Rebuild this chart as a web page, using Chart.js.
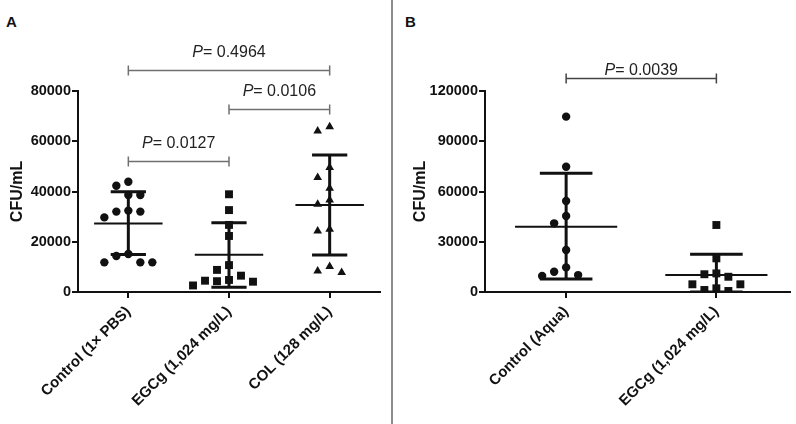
<!DOCTYPE html>
<html><head><meta charset="utf-8">
<script src="https://cdn.jsdelivr.net/npm/chart.js@4.4.1/dist/chart.umd.min.js"></script>
<style>
html,body{margin:0;padding:0;background:#fff;width:796px;height:424px;overflow:hidden;font-family:"Liberation Sans",Arial,sans-serif}
#wa{position:absolute;left:0;top:0;width:391px;height:424px}
#wb{position:absolute;left:392px;top:0;width:404px;height:424px}
#sep{position:absolute;left:391px;top:0;width:2px;height:424px;background:#8c8c8c}
.pl{position:absolute;top:13px;font:bold 15px "Liberation Sans",Arial,sans-serif;color:#111}
</style></head><body>
<div class="pl" style="left:6px">A</div>
<div class="pl" style="left:405px">B</div>
<div id="wa"><canvas id="ca" width="391" height="424"></canvas></div>
<div id="wb"><canvas id="cb" width="404" height="424"></canvas></div>
<div id="sep"></div>
<script>
// ---------- Panel A data ----------
const catsA = ['Control (1\u00d7 PBS)', 'EGCg (1,024 mg/L)', 'COL (128 mg/L)'];
const ctrlA = [43900, 42300, 38600, 38600, 32400, 32000, 32000, 29700, 15100, 14300, 11800, 11800, 11800];
const egcgA = [38900, 32600, 26700, 22300, 10700, 8800, 6500, 4800, 4500, 4300, 4100, 2600];
const colA  = [65800, 64100, 49600, 45600, 41300, 36600, 34900, 25000, 24300, 10100, 8400, 7800];
const meanA = [27300, 14800, 34600];
const sdHiA = [39900, 27600, 54500];
const sdLoA = [14900, 1900, 14700];
const yTicksA = [0, 20000, 40000, 60000, 80000];
const pTextA  = ['0.4964', '0.0106', '0.0127'];
const pFromA  = [0, 1, 0];
const pToA    = [2, 2, 1];
const pLevelA = [88400, 72800, 52100];

// ---------- Panel B data ----------
const catsB = ['Control (Aqua)', 'EGCg (1,024 mg/L)'];
const ctrlB = [104700, 74800, 54300, 45400, 41000, 25100, 14700, 12100, 10100, 9600];
const egcgB = [40000, 20100, 11100, 10600, 9100, 4600, 4600, 2200, 1200, 600];
const meanB = [39000, 10100];
const sdHiB = [70900, 22500];
const sdLoB = [7800, 0];
const yTicksB = [0, 30000, 60000, 90000, 120000];
const pTextB  = ['0.0039'];
const pFromB  = [0];
const pToB    = [1];
const pLevelB = [127600];

// ---------- helpers ----------
const INK = '#111';
const PLOT_H = 201;           // plot height in px (layout constant)
const MARK_D = 11;            // collision distance in px
const STEP_PX = 12;           // horizontal step between neighbouring marks

// deterministic beeswarm: spreads marks that would overlap
function swarm(vals, center, catPx, yMax) {
  const pxPerVal = PLOT_H / yMax;
  const order = vals.map((v, i) => i).sort((a, b) => vals[b] - vals[a]);
  const placed = [];
  const out = new Array(vals.length);
  for (const i of order) {
    const v = vals[i];
    for (let k = 0; k < 40; k++) {
      const off = k === 0 ? 0 : (k % 2 ? -Math.ceil(k / 2) : Math.ceil(k / 2));
      const ok = placed.every(p => Math.abs(p.v - v) * pxPerVal >= MARK_D || Math.abs(p.off - off) * STEP_PX >= MARK_D);
      if (ok) { placed.push({ v, off }); out[i] = { x: center + off * STEP_PX / catPx, y: v }; break; }
    }
  }
  return out;
}
function meanSegs(means, hw) {
  const d = [];
  means.forEach((m, i) => { d.push({ x: i - hw, y: m }, { x: i + hw, y: m }, { x: i, y: null }); });
  return d;
}
function sdSegs(hi, lo, hw) {
  const d = [];
  hi.forEach((h, i) => {
    d.push({ x: i - hw, y: h }, { x: i + hw, y: h }, { x: i, y: null });
    d.push({ x: i, y: h }, { x: i, y: lo[i] }, { x: i + 0.001, y: null });
    d.push({ x: i - hw, y: lo[i] }, { x: i + hw, y: lo[i] }, { x: i + 0.002, y: null });
  });
  return d;
}
const bracketPlugin = {
  id: 'brackets',
  afterDatasetsDraw(chart, args, o) {
    const { ctx } = chart;
    const xs = chart.scales.x, ys = chart.scales.y;
    ctx.save();
    o.text.forEach((t, i) => {
      const x1 = xs.getPixelForValue(o.from[i]), x2 = xs.getPixelForValue(o.to[i]);
      const y = Math.round(ys.getPixelForValue(o.level[i])) + 0.5;
      ctx.strokeStyle = o.color; ctx.lineWidth = 1.5;
      ctx.beginPath();
      ctx.moveTo(x1, y); ctx.lineTo(x2, y);
      ctx.moveTo(x1, y - 5); ctx.lineTo(x1, y + 5);
      ctx.moveTo(x2, y - 5); ctx.lineTo(x2, y + 5);
      ctx.stroke();
      const fi = 'italic 16px "Liberation Sans", Arial, sans-serif';
      const fn = '16px "Liberation Sans", Arial, sans-serif';
      ctx.font = fi; const w1 = ctx.measureText('P').width;
      ctx.font = fn; const rest = '= ' + t; const w2 = ctx.measureText(rest).width;
      const xs0 = (x1 + x2) / 2 - (w1 + w2) / 2;
      const ty = y - o.gap;
      ctx.fillStyle = '#222'; ctx.textBaseline = 'middle'; ctx.textAlign = 'left';
      ctx.font = fi; ctx.fillText('P', xs0, ty);
      ctx.font = fn; ctx.fillText(rest, xs0 + w1, ty);
    });
    ctx.restore();
  }
};

function makeChart(id, cfg) {
  const markerSets = cfg.groups.map((g, i) => ({
    type: 'scatter',
    data: swarm(g, i, cfg.catPx, cfg.yMax),
    pointStyle: cfg.styles[i], pointRadius: cfg.radii[i],
    backgroundColor: INK, borderColor: INK, borderWidth: 0
  }));
  return new Chart(document.getElementById(id), {
    type: 'scatter',
    data: {
      datasets: [
        ...markerSets,
        { type: 'line', data: meanSegs(cfg.mean, 0.34), borderColor: INK, borderWidth: 2, pointRadius: 0, spanGaps: false, fill: false },
        { type: 'line', data: sdSegs(cfg.hi, cfg.lo, 0.175), borderColor: INK, borderWidth: 3, pointRadius: 0, spanGaps: false, fill: false }
      ]
    },
    options: {
      responsive: false, animation: false,
      layout: { padding: { left: cfg.padL, right: cfg.padR, top: 91, bottom: 0 } },
      plugins: {
        legend: { display: false }, tooltip: { enabled: false },
        brackets: { text: cfg.pText, from: cfg.pFrom, to: cfg.pTo, level: cfg.pLevel, gap: cfg.gap, color: cfg.bColor }
      },
      scales: {
        x: {
          type: 'linear', min: cfg.xMin, max: cfg.xMax,
          afterBuildTicks: s => { s.ticks = cfg.cats.map((c, i) => ({ value: i })); },
          afterFit: s => { s.height = 132; },
          ticks: { callback: v => cfg.cats[v], autoSkip: false, minRotation: 45, maxRotation: 45, padding: 5,
                   color: INK, font: { family: '"Liberation Sans", Arial, sans-serif', size: 15, weight: 'bold' } },
          grid: { drawOnChartArea: false, drawTicks: true, tickLength: 6, color: INK, lineWidth: 2 },
          border: { color: INK, width: 2 }
        },
        y: {
          min: 0, max: cfg.yMax,
          afterBuildTicks: s => { s.ticks = cfg.yTicks.map(v => ({ value: v })); },
          afterFit: s => { s.width = cfg.yW; },
          ticks: { callback: v => String(v), padding: 1, color: INK,
                   font: { family: '"Liberation Sans", Arial, sans-serif', size: 14.5, weight: 'bold' } },
          grid: { drawOnChartArea: false, drawTicks: true, tickLength: 6, color: INK, lineWidth: 2 },
          border: { color: INK, width: 2 },
          title: { display: true, text: 'CFU/mL', color: INK, padding: { top: cfg.titlePad, bottom: 0 },
                   font: { family: '"Liberation Sans", Arial, sans-serif', size: 16, weight: 'bold' } }
        }
      }
    },
    plugins: [bracketPlugin]
  });
}

makeChart('ca', {
  cats: catsA, groups: [ctrlA, egcgA, colA], styles: ['circle', 'rect', 'triangle'], radii: [4.2, 5.6, 5],
  mean: meanA, hi: sdHiA, lo: sdLoA, yMax: 80000, yTicks: yTicksA, catPx: 100.7,
  xMin: -0.5, xMax: 2.5, padL: 0, padR: 11, yW: 78, titlePad: 8,
  pText: pTextA, pFrom: pFromA, pTo: pToA, pLevel: pLevelA, gap: 18, bColor: '#707070'
});
makeChart('cb', {
  cats: catsB, groups: [ctrlB, egcgB], styles: ['circle', 'rect'], radii: [4.2, 5.6],
  mean: meanB, hi: sdHiB, lo: sdLoB, yMax: 120000, yTicks: yTicksB, catPx: 150.3,
  xMin: -0.54, xMax: 1.49, padL: 8, padR: 6, yW: 85, titlePad: 11,
  pText: pTextB, pFrom: pFromB, pTo: pToB, pLevel: pLevelB, gap: 8, bColor: '#444'
});
</script>
</body></html>
